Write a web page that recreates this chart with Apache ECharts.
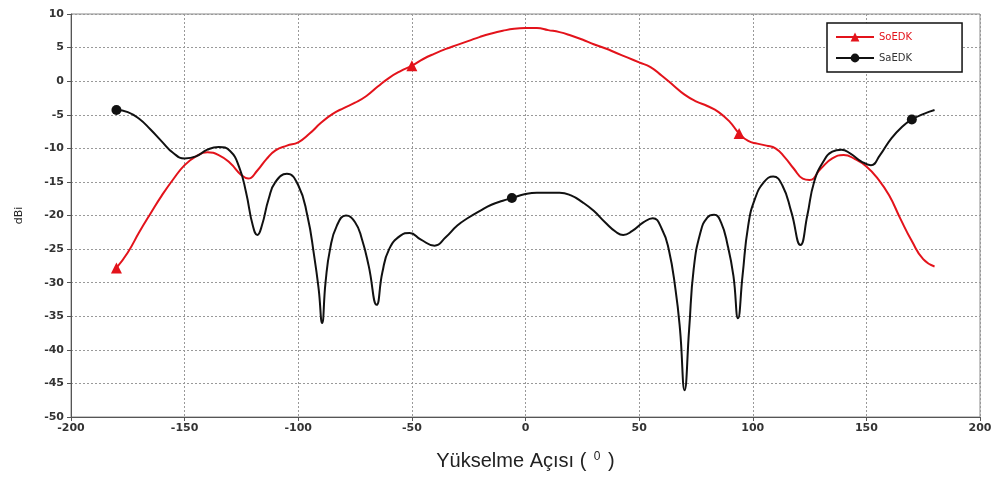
<!DOCTYPE html>
<html>
<head>
<meta charset="utf-8">
<script src="https://cdn.jsdelivr.net/npm/echarts@6/dist/echarts.min.js"></script>
<style>html,body{margin:0;padding:0;background:#fff;}#c{width:999px;height:484px;}</style>
</head>
<body>
<div id="c"></div>
<script>
// SoEDK (red)
const soAngle = [-180,-175,-170,-165,-160,-155,-150,-145,-140,-135,-130,-125,-122,-118,-114,-110,-105,-100,-95,-90,-85,-80,-75,-70,-65,-60,-55,-50,-45,-40,-35,-30,-25,-20,-15,-10,-5,0,5,10,15,20,25,30,35,40,45,50,55,60,65,70,75,80,85,90,94,98,102,106,110,114,118,122,125,130,135,140,145,150,155,160,165,170,175,180];
const soGain = [-27.8,-25.5,-22.5,-19.7,-17,-14.6,-12.5,-11.2,-10.6,-11.0,-12.2,-14.0,-14.5,-13.3,-11.6,-10.3,-9.6,-9.1,-7.8,-6.2,-4.9,-4.0,-3.2,-2.2,-0.8,0.5,1.5,2.3,3.3,4.1,4.8,5.4,6.0,6.6,7.1,7.5,7.8,7.9,7.9,7.6,7.3,6.8,6.2,5.5,4.9,4.2,3.5,2.8,2.1,0.8,-0.6,-2.0,-3.0,-3.7,-4.6,-6.1,-7.8,-8.9,-9.3,-9.6,-10.0,-11.3,-13.0,-14.5,-14.7,-13.0,-11.5,-11.0,-11.6,-12.7,-14.5,-17.0,-20.5,-23.8,-26.5,-27.6];
const soMarkers = [-180,-50,94];
// SaEDK (black)
const saAngle = [-180,-175,-170,-165,-160,-155,-150,-145,-140,-135,-130,-126,-123,-120,-118,-116,-113,-110,-105,-100,-96,-93,-91,-89.5,-88,-86,-83,-79,-75,-72,-69,-65.5,-63,-60,-55,-51,-46,-40,-35,-30,-25,-20,-15,-10,-6,0,5,15,20,25,30,35,40,43,47,52,56,60,63,66,68,70,72,74,77,80,83,86,89,91.5,93.5,95.5,98,101,105,109,113,117,121,124,127,131,135,139,143,148,152,156,161,166,170,175,180];
const saGain = [-4.3,-4.6,-5.6,-7.2,-9.0,-10.7,-11.5,-11.2,-10.2,-9.8,-10.4,-12.8,-16.5,-21.5,-22.9,-21.5,-17.5,-15,-13.8,-15.5,-20,-26,-31,-36,-30,-25,-21.5,-20,-21,-23.5,-27.5,-33.3,-28.5,-25,-23,-22.6,-23.6,-24.5,-23.2,-21.5,-20.3,-19.3,-18.4,-17.8,-17.4,-16.8,-16.6,-16.6,-17.0,-18.0,-19.3,-21,-22.5,-22.9,-22.3,-21,-20.4,-22,-25,-31,-37,-46,-37,-28,-22.5,-20.3,-19.9,-21,-24.5,-29,-35.3,-29,-21.5,-17.5,-15,-14.2,-15.5,-19.5,-24.4,-20,-15,-12,-10.5,-10.2,-10.8,-12,-12.5,-11,-8.5,-6.7,-5.7,-4.9,-4.3];
const saMarkers = [-180,-6,170];
// axes
const xTicks = {min:-200, max:200, step:50};
const yTicks = {min:-50, max:10, step:5};

function build(angles, gains, marks){
  return angles.map((a,i)=> marks.includes(a) ? {value:[a,gains[i]]} : {value:[a,gains[i]], symbol:'none'});
}
const RED = '#e3131b', BLK = '#111111';
const chart = echarts.init(document.getElementById('c'), null, {renderer:'canvas'});
chart.setOption({
  animation:false,
  backgroundColor:'#fff',
  grid:{left:71, right:19, top:14, bottom:67, show:true, borderColor:'#8a8a8a', borderWidth:1},
  legend:{
    orient:'vertical', left:827, top:23, padding:[9,50,9,8], itemGap:11,
    itemWidth:38, itemHeight:11,
    borderColor:'#111', borderWidth:1.5, backgroundColor:'#fff',
    textStyle:{fontFamily:'DejaVu Sans', fontSize:10},
    data:[{name:'SoEDK', textStyle:{color:RED}}, {name:'SaEDK', textStyle:{color:'#333'}}]
  },
  xAxis:{
    type:'value', min:xTicks.min, max:xTicks.max, interval:xTicks.step,
    name:'{a|Yükselme Açısı ( }{s|0}{a| )}', nameLocation:'middle', nameGap:34,
    nameTextStyle:{rich:{
      a:{fontFamily:'Liberation Sans', fontSize:20, color:'#222'},
      s:{fontFamily:'Liberation Sans', fontSize:12, color:'#222', padding:[0,2,8,2]}
    }},
    axisLine:{onZero:false, lineStyle:{color:'#555', width:1}},
    axisTick:{show:true, length:4, lineStyle:{color:'#555'}},
    axisLabel:{fontFamily:'DejaVu Sans', fontSize:11, fontWeight:'bold', color:'#333', margin:6},
    splitLine:{show:true, lineStyle:{color:'#999', type:[2,2], width:1}}
  },
  yAxis:{
    type:'value', min:yTicks.min, max:yTicks.max, interval:yTicks.step,
    name:'dBi', nameLocation:'middle', nameGap:46, nameRotate:90,
    nameTextStyle:{fontFamily:'DejaVu Sans', fontSize:11, color:'#222'},
    axisLine:{show:true, onZero:false, lineStyle:{color:'#555', width:1}},
    axisTick:{show:true, length:4, lineStyle:{color:'#555'}},
    axisLabel:{fontFamily:'DejaVu Sans', fontSize:11, fontWeight:'bold', color:'#333', margin:7},
    splitLine:{show:true, lineStyle:{color:'#999', type:[2,2], width:1}}
  },
  series:[
    {name:'SoEDK', type:'line', data:build(soAngle, soGain, soMarkers), smooth:0.5,
     symbol:'triangle', symbolSize:11, showAllSymbol:true,
     lineStyle:{color:RED, width:2}, itemStyle:{color:RED}},
    {name:'SaEDK', type:'line', data:build(saAngle, saGain, saMarkers), smooth:0.5,
     symbol:'circle', symbolSize:10, showAllSymbol:true,
     lineStyle:{color:BLK, width:2}, itemStyle:{color:BLK}}
  ]
});
</script>
</body>
</html>
